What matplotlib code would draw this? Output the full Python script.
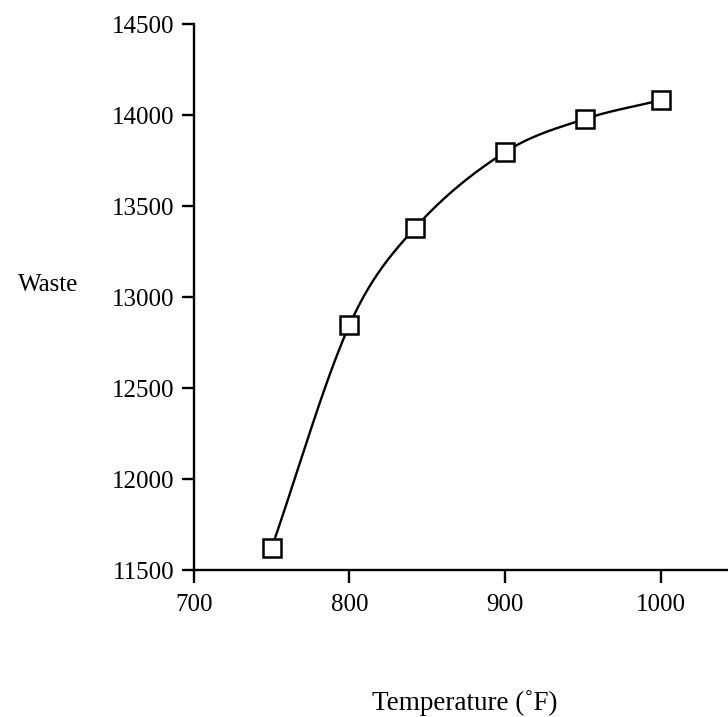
import numpy as np
import matplotlib.pyplot as plt

# temperature (F) vs waste
temperature = [750, 800, 842, 900, 951, 1000]
waste = [11620, 12846, 13379, 13797, 13978, 14082]

x_ticks = [700, 800, 900, 1000]
y_ticks = [11500, 12000, 12500, 13000, 13500, 14000, 14500]


def smooth_curve(x, y, xs):
    """cubic Hermite through the points, Catmull-Rom style slopes"""
    x = np.asarray(x, float)
    y = np.asarray(y, float)
    n = len(x)
    d = np.empty(n)
    d[0] = (y[1] - y[0]) / (x[1] - x[0])
    d[-1] = (y[-1] - y[-2]) / (x[-1] - x[-2])
    d[1:-1] = (y[2:] - y[:-2]) / (x[2:] - x[:-2])
    out = np.empty_like(xs)
    for k, xv in enumerate(xs):
        i = int(np.clip(np.searchsorted(x, xv) - 1, 0, n - 2))
        h = x[i + 1] - x[i]
        t = (xv - x[i]) / h
        h00 = 2 * t**3 - 3 * t**2 + 1
        h10 = t**3 - 2 * t**2 + t
        h01 = -2 * t**3 + 3 * t**2
        h11 = t**3 - t**2
        out[k] = h00 * y[i] + h10 * h * d[i] + h01 * y[i + 1] + h11 * h * d[i + 1]
    return out


plt.rcParams['font.family'] = ['Liberation Serif', 'DejaVu Serif']

fig = plt.figure(figsize=(7.28, 7.17), dpi=100)
ax = fig.add_axes([0.266, 0.205, 0.734, 0.7615])

xs = np.linspace(temperature[0], temperature[-1], 300)
ax.plot(xs, smooth_curve(temperature, waste, xs), color='black', lw=1.7)
ax.plot(temperature, waste, linestyle='none', marker='s', markersize=12.5,
        markerfacecolor='white', markeredgecolor='black', markeredgewidth=1.8)

ax.set_xlim(700, 1043)
ax.set_ylim(11500, 14500)
ax.set_xticks(x_ticks)
ax.set_yticks(y_ticks)
ax.tick_params(axis='both', labelsize=18, width=1.7, length=9, color='black')
ax.tick_params(axis='x', pad=8)
ax.tick_params(axis='y', pad=5)

for side in ['top', 'right']:
    ax.spines[side].set_visible(False)
for side in ['left', 'bottom']:
    ax.spines[side].set_linewidth(1.7)

fig.text(0.066, 0.6025, 'Waste', fontsize=18, ha='center', va='center')
fig.text(0.639, 0.0195, 'Temperature (˚F)', fontsize=19.5, ha='center', va='center')

fig.savefig('out.png', dpi=100)
